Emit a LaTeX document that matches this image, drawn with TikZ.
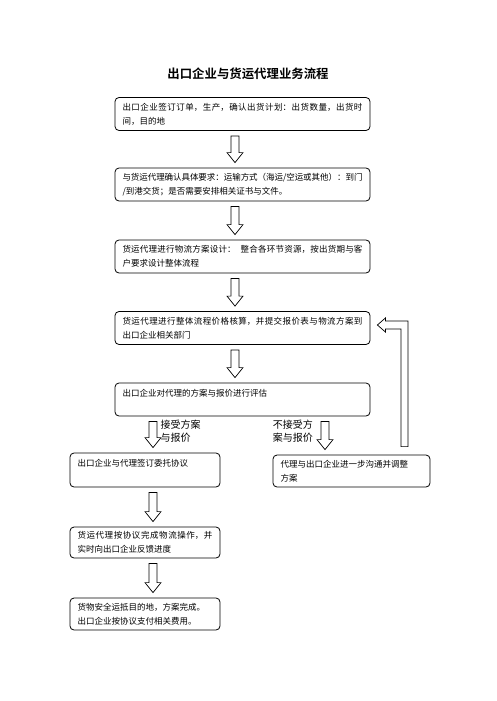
\documentclass[tikz,border=0pt]{standalone}
\usepackage{fontspec}
\setmainfont{Noto Sans CJK SC}[BoldFont={Noto Sans CJK SC Bold}]
\XeTeXlinebreaklocale "zh"
\XeTeXlinebreakskip=0pt plus 1pt minus 0.3pt
\usepackage{tikz}
\usetikzlibrary{calc}

\tikzset{
  stepbox/.style={draw, rounded corners=4pt, line width=0.8pt, align=justify,
    inner xsep=7.5pt, inner ysep=0pt, font=\fontsize{8.5}{14}\selectfont},
  mainbox/.style={stepbox, text width=240pt, minimum height=33pt},
  sidebox/.style={stepbox, text width=135pt, minimum height=32pt},
  hollow/.style={draw, line width=0.7pt, fill=white, line join=miter},
  choice/.style={align=left, inner sep=0pt, font=\fontsize{10}{13}\selectfont}
}

% hollow block arrow from #1 down to #2, x shifted by #3 from #2
\newcommand{\flowarrow}[3]{%
  \draw[hollow] let \p1=(#1.south), \p2=($(#2.north)+(#3,0)$) in
    ({\x2-4pt},{\y1-5pt}) -- ({\x2+4pt},{\y1-5pt}) -- ({\x2+4pt},{\y2+15pt})
    -- ({\x2+8pt},{\y2+15pt}) -- (\x2,{\y2+5pt}) -- ({\x2-8pt},{\y2+15pt})
    -- ({\x2-4pt},{\y2+15pt}) -- cycle;}

\begin{document}
\begin{tikzpicture}[x=1pt,y=-1pt]
  \useasboundingbox (0,0) rectangle (496,701);
  \node[font=\fontsize{12.4}{15}\selectfont\bfseries] (title) at (248,74) {出口企业与货运代理业务流程};

  \node[mainbox] (order) at (242.5,114)
    {出口企业签订订单，生产，确认出货计划：出货数量，出货时\linebreak 间，目的地};
  \node[mainbox] (confirm) at (242.5,184.5)
    {与货运代理确认具体要求：运输方式（海运/空运或其他）：到门\linebreak /到港交货；是否需要安排相关证书与文件。};
  \node[mainbox] (design) at (242.5,256.5)
    {货运代理进行物流方案设计：\hspace{0.6em}整合各环节资源，按出货期与客\linebreak 户要求设计整体流程};
  \node[mainbox] (quote) at (242.5,328)
    {货运代理进行整体流程价格核算，并提交报价表与物流方案到\linebreak 出口企业相关部门};
  \node[mainbox] (assess) at (242.5,399.5)
    {出口企业对代理的方案与报价进行评估\\\mbox{}};

  \node[sidebox, minimum height=34pt] (sign) at (145,470)
    {出口企业与代理签订委托协议\\\mbox{}};
  \node[stepbox, text width=142pt, minimum height=32pt] (adjust) at (351.5,471)
    {代理与出口企业进一步沟通并调整\\方案};
  \node[sidebox, minimum height=31pt] (operate) at (145,542.5)
    {货运代理按协议完成物流操作，并\linebreak 实时向出口企业反馈进度};
  \node[sidebox] (pay) at (145,614)
    {货物安全运抵目的地，方案完成。\\出口企业按协议支付相关费用。};

  \node[choice, anchor=west] (yes) at (160.5,431.5) {接受方案\\与报价};
  \node[choice, anchor=east] (no) at (313,431.5) {不接受方\\案与报价};

  \flowarrow{order}{confirm}{-7.5}
  \flowarrow{confirm}{design}{-7.5}
  \flowarrow{design}{quote}{-7.5}
  \flowarrow{quote}{assess}{-7.5}
  \flowarrow{assess}{sign}{8}
  \flowarrow{assess}{adjust}{-26.5}
  \flowarrow{sign}{operate}{8}
  \flowarrow{operate}{pay}{8}

  % back arrow from the adjusted plan to the quote
  \draw[hollow] let \p1=($(adjust.north)+(53,-8)$), \p2=($(quote.east)+(7,-3)$) in
    ({\x1-3.5pt},\y1) -- ({\x1+3.5pt},\y1) -- ({\x1+3.5pt},{\y2+4pt})
    -- ({\x2+8pt},{\y2+4pt}) -- ({\x2+8pt},{\y2+7pt}) -- (\x2,\y2)
    -- ({\x2+8pt},{\y2-7pt}) -- ({\x2+8pt},{\y2-4pt}) -- ({\x1-3.5pt},{\y2-4pt}) -- cycle;
\end{tikzpicture}
\end{document}
